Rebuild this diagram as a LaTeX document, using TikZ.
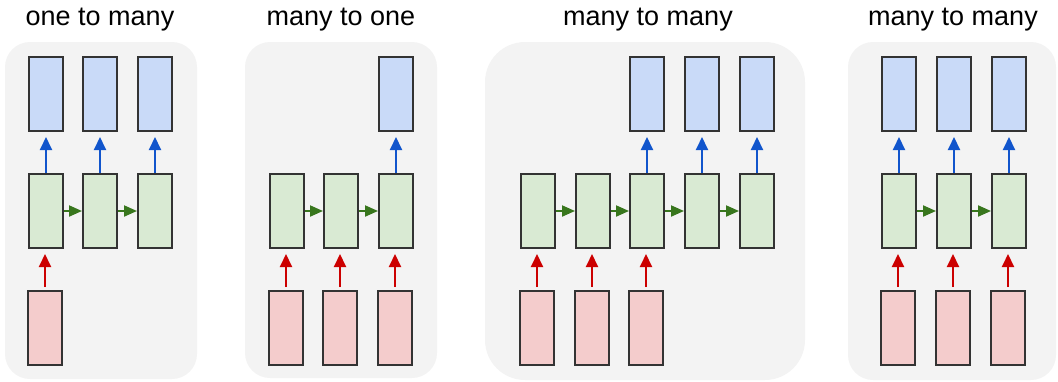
\documentclass[tikz,border=0pt]{standalone}
\usepackage{fontspec}
\setmainfont{Liberation Sans}
\usetikzlibrary{arrows.meta}
\definecolor{panelbg}{HTML}{F3F3F3}
\definecolor{outfill}{HTML}{C9DAF8}
\definecolor{hidfill}{HTML}{D9EAD3}
\definecolor{infill}{HTML}{F4CCCC}
\definecolor{boxline}{HTML}{333333}
\definecolor{outarrow}{HTML}{1155CC}
\definecolor{hidarrow}{HTML}{38761D}
\definecolor{inarrow}{HTML}{CC0000}
\tikzset{
  cell/.style={draw=boxline, line width=2pt, minimum width=34pt, minimum height=74pt, inner sep=0pt},
  outcell/.style={cell, fill=outfill},
  hidcell/.style={cell, fill=hidfill},
  incell/.style={cell, fill=infill},
  panel/.style={fill=panelbg, draw=none},
  title/.style={anchor=base, font=\fontsize{27}{32}\selectfont, inner sep=0pt},
  uparrow/.style={line width=2pt, -{Triangle[length=13pt,width=12pt]}, shorten >=5pt},
  outarr/.style={uparrow, draw=outarrow, fill=outarrow},
  inarr/.style={uparrow, draw=inarrow, fill=inarrow, shorten <=3pt},
  hidarr/.style={line width=2pt, draw=hidarrow, -{Triangle[length=13pt,width=11pt,fill=hidarrow]}}
}
\begin{document}
\begin{tikzpicture}[x=1pt,y=-1pt]
\useasboundingbox (0,0) rectangle (1058,381);
% panels
\fill[panel, rounded corners=25pt] (5,42) rectangle (197,379);
\fill[panel, rounded corners=25pt] (245,42) rectangle (437,378);
\fill[panel, rounded corners=40pt] (485,42) rectangle (805,380);
\fill[panel, rounded corners=25pt] (848,42) rectangle (1056,380);
% titles
\node[title] (t1) at (100,25) {one to many};
\node[title] (t2) at (341,25) {many to one};
\node[title] (t3) at (648,25) {many to many};
\node[title] (t4) at (953,25) {many to many};

% ---- panel 1: one to many
\node[outcell] (a1o1) at (46,94) {};
\node[outcell] (a1o2) at (100,94) {};
\node[outcell] (a1o3) at (155,94) {};
\node[hidcell] (a1h1) at (46,211) {};
\node[hidcell] (a1h2) at (100,211) {};
\node[hidcell] (a1h3) at (155,211) {};
\node[incell] (a1i1) at (45,328) {};
\draw[inarr] (a1i1.north) -- (a1i1.north |- a1h1.south);
\draw[hidarr] (a1h1.east) -- (a1h2.west);
\draw[hidarr] (a1h2.east) -- (a1h3.west);
\draw[outarr] (a1h1.north) -- (a1o1.south);
\draw[outarr] (a1h2.north) -- (a1o2.south);
\draw[outarr] (a1h3.north) -- (a1o3.south);

% ---- panel 2: many to one
\node[outcell] (b1o3) at (396,94) {};
\node[hidcell] (b1h1) at (287,211) {};
\node[hidcell] (b1h2) at (341,211) {};
\node[hidcell] (b1h3) at (396,211) {};
\node[incell] (b1i1) at (286,328) {};
\node[incell] (b1i2) at (340,328) {};
\node[incell] (b1i3) at (395,328) {};
\draw[inarr] (b1i1.north) -- (b1i1.north |- b1h1.south);
\draw[inarr] (b1i2.north) -- (b1i2.north |- b1h2.south);
\draw[inarr] (b1i3.north) -- (b1i3.north |- b1h3.south);
\draw[hidarr] (b1h1.east) -- (b1h2.west);
\draw[hidarr] (b1h2.east) -- (b1h3.west);
\draw[outarr] (b1h3.north) -- (b1o3.south);

% ---- panel 3: many to many (delayed)
\node[outcell] (c1o3) at (647,94) {};
\node[outcell] (c1o4) at (702,94) {};
\node[outcell] (c1o5) at (757,94) {};
\node[hidcell] (c1h1) at (538,211) {};
\node[hidcell] (c1h2) at (593,211) {};
\node[hidcell] (c1h3) at (647,211) {};
\node[hidcell] (c1h4) at (702,211) {};
\node[hidcell] (c1h5) at (757,211) {};
\node[incell] (c1i1) at (537,328) {};
\node[incell] (c1i2) at (592,328) {};
\node[incell] (c1i3) at (646,328) {};
\draw[inarr] (c1i1.north) -- (c1i1.north |- c1h1.south);
\draw[inarr] (c1i2.north) -- (c1i2.north |- c1h2.south);
\draw[inarr] (c1i3.north) -- (c1i3.north |- c1h3.south);
\draw[hidarr] (c1h1.east) -- (c1h2.west);
\draw[hidarr] (c1h2.east) -- (c1h3.west);
\draw[hidarr] (c1h3.east) -- (c1h4.west);
\draw[hidarr] (c1h4.east) -- (c1h5.west);
\draw[outarr] (c1h3.north) -- (c1o3.south);
\draw[outarr] (c1h4.north) -- (c1o4.south);
\draw[outarr] (c1h5.north) -- (c1o5.south);

% ---- panel 4: many to many (synced)
\node[outcell] (d1o1) at (899,94) {};
\node[outcell] (d1o2) at (954,94) {};
\node[outcell] (d1o3) at (1009,94) {};
\node[hidcell] (d1h1) at (899,211) {};
\node[hidcell] (d1h2) at (954,211) {};
\node[hidcell] (d1h3) at (1009,211) {};
\node[incell] (d1i1) at (898,328) {};
\node[incell] (d1i2) at (953,328) {};
\node[incell] (d1i3) at (1008,328) {};
\draw[inarr] (d1i1.north) -- (d1i1.north |- d1h1.south);
\draw[inarr] (d1i2.north) -- (d1i2.north |- d1h2.south);
\draw[inarr] (d1i3.north) -- (d1i3.north |- d1h3.south);
\draw[hidarr] (d1h1.east) -- (d1h2.west);
\draw[hidarr] (d1h2.east) -- (d1h3.west);
\draw[outarr] (d1h1.north) -- (d1o1.south);
\draw[outarr] (d1h2.north) -- (d1o2.south);
\draw[outarr] (d1h3.north) -- (d1o3.south);
\end{tikzpicture}
\end{document}
